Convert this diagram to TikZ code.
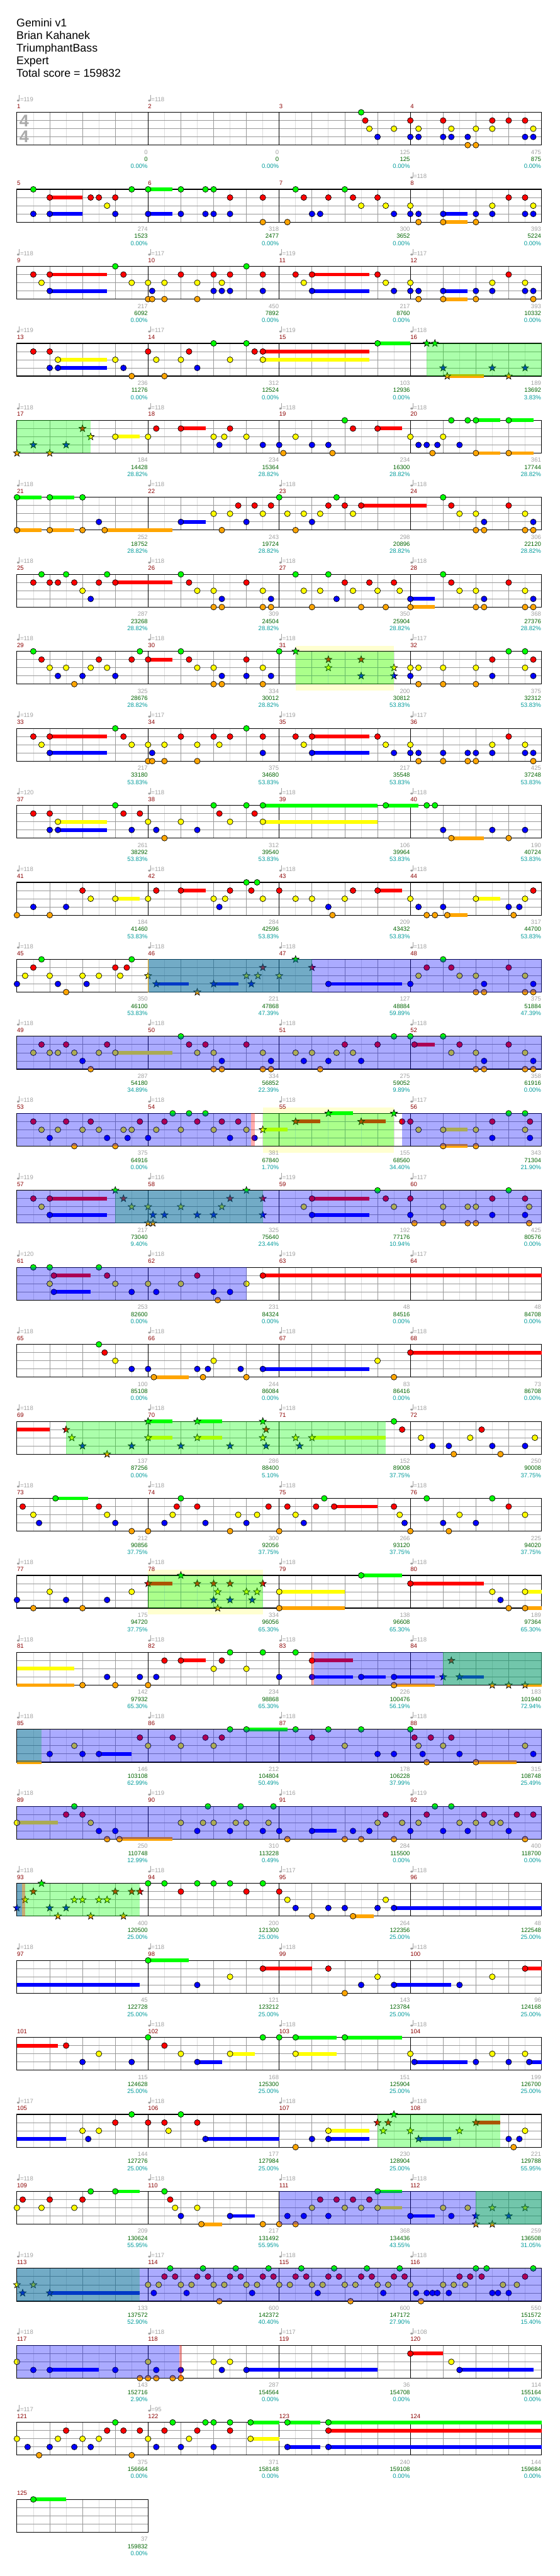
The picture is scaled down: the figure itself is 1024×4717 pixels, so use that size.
\documentclass[tikz,border=0pt]{standalone}
\usepackage{fontspec}
\setmainfont{Liberation Sans}
\definecolor{L0}{RGB}{0,255,0}
\definecolor{L1}{RGB}{255,0,0}
\definecolor{L2}{RGB}{255,255,0}
\definecolor{L3}{RGB}{0,0,255}
\definecolor{L4}{RGB}{255,165,0}
\definecolor{gridlight}{RGB}{221,221,221}
\definecolor{griddark}{RGB}{153,153,153}
\definecolor{tgray}{RGB}{160,160,160}
\definecolor{dgreen}{RGB}{0,100,0}
\definecolor{tealt}{RGB}{0,155,155}
\definecolor{dred}{RGB}{139,0,0}
\definecolor{ybcol}{RGB}{255,255,208}
\definecolor{tsgray}{RGB}{170,170,170}
\tikzset{
  nb/.style={draw=black,line width=0.8pt},
  gl/.style={draw=gridlight,line width=1pt},
  gd/.style={draw=griddark,line width=1pt},
  mline/.style={draw=black,line width=1pt},
  border/.style={draw=black,line width=1.3pt},
  small/.style={font=\fontsize{11}{13}\selectfont,inner sep=0pt},
  htxt/.style={font=\fontsize{20.5}{23}\selectfont,inner sep=0pt,anchor=base west},
  mlab/.style={small,text=dred,anchor=base west},
  ttxt/.style={small,text=tgray,anchor=base west},
  graytxt/.style={small,text=tgray,anchor=base east},
  greentxt/.style={small,text=dgreen,anchor=base east},
  pcttxt/.style={small,text=tealt,anchor=base east},
  tsig/.style={font=\fontsize{31}{31}\selectfont\bfseries,text=tsgray,inner sep=0pt}
}
\def\SetRow#1{\pgfmathsetmacro\RT{205.7+141*(#1)}}
\def\Grid#1{%
  \pgfmathtruncatemacro\NB{4*#1-1}%
  \pgfmathtruncatemacro\NM{#1-1}%
  \pgfmathsetmacro\W{240*#1}%
  \foreach \xJ in {0,...,\NB}{\draw[gl] ({61+60*\xJ},{-\RT}) -- ({61+60*\xJ},{-\RT-60});}
  \foreach \xL in {1,2,3}{\draw[gd] (31,{-\RT-15*\xL}) -- ({31+\W},{-\RT-15*\xL});}
  \ifnum\NB>0 \foreach \xJ in {1,...,\NB}{\draw[gd] ({31+60*\xJ},{-\RT}) -- ({31+60*\xJ},{-\RT-60});}\fi
  \ifnum\NM>0 \foreach \xJ in {1,...,\NM}{\draw[mline] ({31+240*\xJ},{-\RT}) -- ({31+240*\xJ},{-\RT-60});}\fi
  \draw[border] (31,{-\RT}) rectangle ({31+\W},{-\RT-60});
}
\def\Ln#1#2{\foreach \xT in {#2}{\filldraw[nb,fill=L#1] ({31+15*\xT},{-\RT-15*#1}) circle (5.3);}}
\def\Tl#1#2#3{\fill[L#1] ({31+15*(#2)},{-\RT-15*#1-3.4}) rectangle ({31+15*(#3)},{-\RT-15*#1+3.4});}
\def\Sl#1#2{\foreach \xT/\xE in {#2}{\Tl{#1}{\xT}{\xE}\filldraw[nb,fill=L#1] ({31+15*\xT},{-\RT-15*#1}) circle (5.3);}}
\def\StarAt#1#2{\filldraw[nb,fill=L#1,shift={({31+15*(#2)},{-\RT-15*#1})}] (90:6.8)--(126:2.8)--(162:6.8)--(198:2.8)--(234:6.8)--(270:2.8)--(306:6.8)--(342:2.8)--(18:6.8)--(54:2.8)--cycle;}
\def\Stl#1#2{\foreach \xT in {#2}{\StarAt{#1}{\xT}}}
\def\SSl#1#2{\foreach \xT/\xE in {#2}{\Tl{#1}{\xT}{\xE}\StarAt{#1}{\xT}}}
\def\Gr#1#2{\fill[L0,opacity=.33] ({31+15*(#1)},{-\RT}) rectangle ({31+15*(#2)},{-\RT-60});}
\def\Bl#1#2{\fill[L3,opacity=.33] ({31+15*(#1)},{-\RT}) rectangle ({31+15*(#2)},{-\RT-60});}
\def\Sa#1#2{\fill[L1,opacity=.33] ({31+15*(#1)},{-\RT}) rectangle ({31+15*(#2)},{-\RT-60});}
\def\Yb#1#2{\fill[ybcol] ({31+15*(#1)},{-\RT+10.4}) rectangle ({31+15*(#2)},{-\RT-71.8});}
\def\Tempo#1#2#3{%
  \fill[tgray] ({31+240*#1+2.4},{-\RT+21.6}) ellipse (2.4 and 1.8);
  \draw[tgray,line width=0.8pt] ({31+240*#1+4.4},{-\RT+21.4}) -- ({31+240*#1+4.4},{-\RT+31.5});
  \node[ttxt] (tp#3) at ({31+240*#1+5.7},{-\RT+20}) {=#2};}
\def\Meas#1#2#3#4#5#6{%
  \node[mlab] (ml#2) at ({31+240*#1},{-\RT+7.4}) {#2};
  \def\xTmp{#3}\ifx\xTmp\empty\else\Tempo{#1}{#3}{#2}\fi
  \node[graytxt] (ga#2) at ({31+240*#1+239.5},{-\RT-76.6}) {#4};
  \node[greentxt] (gb#2) at ({31+240*#1+239.5},{-\RT-89.6}) {#5};
  \node[pcttxt] (gc#2) at ({31+240*#1+239.5},{-\RT-102.6}) {#6\%};}
\begin{document}
\begin{tikzpicture}[x=1pt,y=1pt]
\fill[white] (0,0) rectangle (1024,-4717);
\useasboundingbox (0,0) rectangle (1024,-4717);
\node[htxt] (h1) at (30,-49.3) {Gemini v1};
\node[htxt] (h2) at (30,-72.3) {Brian Kahanek};
\node[htxt] (h3) at (30,-95.3) {TriumphantBass};
\node[htxt] (h4) at (30,-118.3) {Expert};
\node[htxt] (h5) at (30,-141.3) {Total score = 159832};
% row 0
\SetRow{0}\Grid{4}
\node[tsig] (ts1) at (44.3,-221) {4};
\node[tsig] (ts2) at (44.3,-250.7) {4};
\Ln{0}{42}
\Ln{1}{42.5,48,52,58,60,62}
\Ln{2}{43,46,49,53,56,58,63}
\Ln{3}{44,48,49,52,53,55,62,63}
\Ln{4}{55,56}
\Meas{0}{1}{119}{0}{0}{0.00}\Meas{1}{2}{118}{0}{0}{0.00}\Meas{2}{3}{}{125}{125}{0.00}\Meas{3}{4}{}{475}{875}{0.00}
% row 1
\SetRow{1}\Grid{4}
\Sl{0}{16/19}\Sl{1}{4/8}\Sl{3}{4/8,16/19,52/55}\Sl{4}{52/55}
\Ln{0}{2,14,20,23,24,34,40}
\Ln{1}{9,10,12,26,30,35,38,41,44,60,62}
\Ln{2}{11,42,45,48,58,63}
\Ln{3}{2,12,20,23,24,26,36,37,46,48,49,56,58,62,63}
\Ln{4}{30,33,49,56}
\Meas{0}{5}{}{274}{1523}{0.00}\Meas{1}{6}{}{318}{2477}{0.00}\Meas{2}{7}{}{300}{3652}{0.00}\Meas{3}{8}{118}{393}{5224}{0.00}
% row 2
\SetRow{2}\Grid{4}
\Sl{1}{4/11,36/43}\Sl{3}{4/11,36/43,52/55}\Sl{4}{52/55}
\Ln{0}{12,28}
\Ln{1}{2,13,20,24,26,30,34,44,60}
\Ln{2}{3,14,16,18,22,25,35,45,48,58,62}
\Ln{3}{16.5,24,25,26,30,46,48,49,56,58,62,63}
\Ln{4}{16,16.5,18,22,49,56,63}
\Meas{0}{9}{118}{217}{6092}{0.00}\Meas{1}{10}{117}{450}{7892}{0.00}\Meas{2}{11}{119}{217}{8760}{0.00}\Meas{3}{12}{117}{393}{10332}{0.00}
% row 3
\SetRow{3}\Grid{4}
\Sl{0}{44/48}\Sl{1}{30/43}\Sl{2}{5/11,30/43}\Sl{3}{5/11}\SSl{4}{52.5/57}
\Ln{0}{24,28}
\Ln{1}{2,4,16,21,29}
\Ln{2}{12,17,20,26}
\Ln{3}{4,13,22}
\Ln{4}{14,18}
\Stl{0}{50,51}\Stl{3}{52,58,62}\Stl{4}{60}
\Gr{50}{64}
\Meas{0}{13}{119}{236}{11276}{0.00}\Meas{1}{14}{117}{312}{12524}{0.00}\Meas{2}{15}{119}{103}{12936}{0.00}\Meas{3}{16}{118}{189}{13692}{3.83}
% row 4
\SetRow{4}\Grid{4}
\Sl{0}{56/59,60/63}\Sl{1}{20/23,44/47}\Sl{2}{12/15}\Sl{4}{56/59,60/63}
\Ln{0}{40,53,55}
\Ln{1}{17,26,41}
\Ln{2}{16,24,25.3,28,34,48,52}
\Ln{3}{24.7,30,32,36,38,49,50,51.3,54}
\Ln{4}{32.5,38.5,50.7}
\Stl{1}{8}\Stl{2}{9}\Stl{3}{2,6}\Stl{4}{0,4}
\Gr{0}{9}
\Meas{0}{17}{118}{184}{14428}{28.82}\Meas{1}{18}{118}{234}{15364}{28.82}\Meas{2}{19}{118}{234}{16300}{28.82}\Meas{3}{20}{118}{361}{17744}{28.82}
% row 5
\SetRow{5}\Grid{4}
\Sl{0}{0/3,4/7}\Sl{1}{42/50}\Sl{3}{20/23}\Sl{4}{0/3,4/7,10.7/19}
\Ln{0}{8,32,39,52}
\Ln{1}{27,29,31,38,40,53,60}
\Ln{2}{24,26,30,33,35,37,41,54,56,62}
\Ln{3}{10,28,36,57,63}
\Ln{4}{8,25,34,56,57,62,63}
\Meas{0}{21}{118}{252}{18752}{28.82}\Meas{1}{22}{118}{243}{19724}{28.82}\Meas{2}{23}{118}{298}{20896}{28.82}\Meas{3}{24}{118}{306}{22120}{28.82}
% row 6
\SetRow{6}\Grid{4}
\Sl{1}{12/19}\Sl{3}{48/51}\Sl{4}{48/51}
\Ln{0}{3,6,11,20,34,38,52}
\Ln{1}{2,4,5,7,10,21,28,40,43,46,53,60}
\Ln{2}{8,22,24,30,35,37,41,44,46.7,54,56,62}
\Ln{3}{9,25,31,39,57,63}
\Ln{4}{24,25,30,31,36,42,45,56,57,62,63}
\Meas{0}{25}{118}{287}{23268}{28.82}\Meas{1}{26}{118}{309}{24504}{28.82}\Meas{2}{27}{118}{350}{25904}{28.82}\Meas{3}{28}{118}{368}{27376}{28.82}
% row 7
\SetRow{7}\Yb{34}{46}\Grid{4}
\Sl{1}{16/19}
\Ln{0}{2,15,20,32,60,62}
\Ln{1}{3,10,14,21,28,58,63}
\Ln{2}{4,6,9,11,22,24,30,48,49,52,56,62}
\Ln{3}{5,8,12,25,28,31,48,58,63}
\Ln{4}{7,24,25,30,49,52,56}
\Stl{0}{34}\Stl{1}{38,42}\Stl{2}{38,46}\Stl{3}{42,46}
\Gr{34}{46}
\Meas{0}{29}{118}{325}{28676}{28.82}\Meas{1}{30}{118}{334}{30012}{28.82}\Meas{2}{31}{118}{200}{30812}{53.83}\Meas{3}{32}{117}{375}{32312}{53.83}
% row 8
\SetRow{8}\Grid{4}
\Sl{1}{4/11,36/43}\Sl{3}{4/11,36/43}
\Ln{0}{12,28}
\Ln{1}{2,13,20,24,26,30,34,44,60}
\Ln{2}{3,14,16,18,22,24.7,35,45,48,58,62}
\Ln{3}{16.5,30,46,48,49,52,55,56,58,62,63}
\Ln{4}{16,16.5,18,22,49,52,55,56,63}
\Meas{0}{33}{119}{217}{33180}{53.83}\Meas{1}{34}{117}{375}{34680}{53.83}\Meas{2}{35}{119}{217}{35548}{53.83}\Meas{3}{36}{117}{425}{37248}{53.83}
% row 9
\SetRow{9}\Grid{4}
\Sl{0}{30/44,45/49}\Sl{2}{5/11,30/44}\Sl{3}{5/11}\Sl{4}{53/57}
\Ln{0}{12,24,28,50,51}
\Ln{1}{2,4,13,15,24.7,29}
\Ln{2}{16,20,26}
\Ln{3}{4,14,17,22,52,58,62}
\Ln{4}{18,60}
\Meas{0}{37}{120}{261}{38292}{53.83}\Meas{1}{38}{118}{312}{39540}{53.83}\Meas{2}{39}{118}{106}{39964}{53.83}\Meas{3}{40}{118}{190}{40724}{53.83}
% row 10
\SetRow{10}\Grid{4}
\Sl{1}{20/23,44/47}\Sl{2}{12/15,56/59}\Sl{4}{52.5/55}
\Ln{0}{28,29.3}
\Ln{1}{8,17,26,28.6,32,41,63}
\Ln{2}{9,16,24,25.4,30,34,36,40,48,62}
\Ln{3}{2,6,24.7,38,49,52,60,61.3}
\Ln{4}{0,4,38.5,50,51,60.6}
\Meas{0}{41}{118}{184}{41460}{53.83}\Meas{1}{42}{118}{284}{42596}{53.83}\Meas{2}{43}{118}{209}{43432}{53.83}\Meas{3}{44}{118}{317}{44700}{53.83}
% row 11
\SetRow{11}\Grid{4}
\Sl{3}{38/47}\SSl{3}{17/21,24/27}
\Ln{0}{3,14,52}
\Ln{1}{2,12,13.4,50,53,60}
\Ln{2}{1,4,8,10,12.6,49,54,56,62}
\Ln{3}{0,5,8.5,48,57,63}
\Ln{4}{6,56,57,62,63}
\Stl{0}{34}\Stl{1}{30,36}\Stl{2}{16,28,29.4,32}\Stl{3}{28.6}\Stl{4}{22}
\Gr{16}{36}\Bl{16}{64}
\draw[L4,line width=1pt] (271,{-\RT}) -- (271,{-\RT-60});
\Meas{0}{45}{118}{350}{46100}{53.83}\Meas{1}{46}{118}{221}{47868}{47.39}\Meas{2}{47}{118}{127}{48884}{59.89}\Meas{3}{48}{118}{375}{51884}{47.39}
% row 12
\SetRow{12}\Grid{4}
\Sl{1}{48.5/51}\Sl{2}{12/19}
\Ln{0}{20,46,48,52}
\Ln{1}{3,6,11,21,23,28,40,44,54,60}
\Ln{2}{2,4,5,7,10,22,24,30,34,36,39,41,53,56,62}
\Ln{3}{8,25,31,35,38,42,57,63}
\Ln{4}{9,24,25,30,31,37,56,57,62,63}
\Bl{0}{64}
\Meas{0}{49}{118}{287}{54180}{34.89}\Meas{1}{50}{118}{334}{56852}{22.39}\Meas{2}{51}{118}{275}{59052}{9.89}\Meas{3}{52}{118}{358}{61916}{0.00}
% row 13
\SetRow{13}\Yb{30}{46}\Grid{4}
\Sl{2}{52/55}\Sl{4}{52/55}\SSl{0}{38/41}\SSl{1}{34/37,42/45}\SSl{2}{30/33}
\Ln{0}{19,21,23,60,62}
\Ln{1}{2,6,9,15,18,22,25,27,47,48,58,62.6}
\Ln{2}{3,5,8,10,13,14,17,20,24,28,49,56,62}
\Ln{3}{4,11,13.5,16,26,29,58,62.6}
\Ln{4}{7,12,56}
\Stl{0}{46}
\Bl{0}{28.6}\Sa{28.6}{29}\Gr{30}{46}\Bl{47}{64}
\Meas{0}{53}{118}{375}{64916}{0.00}\Meas{1}{54}{118}{381}{67840}{1.70}\Meas{2}{55}{118}{155}{68560}{34.40}\Meas{3}{56}{117}{343}{71304}{21.90}
% row 14
\SetRow{14}\Grid{4}
\Sl{1}{4/11,36/43}\Sl{3}{4/11,36/43}
\Ln{0}{44,60}
\Ln{1}{2,45,48,58,62}
\Ln{2}{3,35,46,52,55,56,62.5}
\Ln{3}{48,58,62}
\Ln{4}{48.5,52,55,56,62.5}
\Stl{0}{12,28}\Stl{1}{13,26,30}\Stl{2}{14,16,20,25}\Stl{3}{16.6,18,22,24,30}\Stl{4}{16,16.6}
\Gr{12}{30}\Bl{0}{64}
\Meas{0}{57}{119}{217}{73040}{9.40}\Meas{1}{58}{116}{325}{75640}{23.44}\Meas{2}{59}{119}{192}{77176}{10.94}\Meas{3}{60}{117}{425}{80576}{0.00}
% row 15
\SetRow{15}\Grid{4}
\Sl{1}{4.5/9,30/64}\Sl{3}{4.5/9}
\Ln{0}{2,4,10}
\Ln{1}{11,22}
\Ln{2}{4,12,16,20,28}
\Ln{3}{14,17,24,26}
\Ln{4}{24.5}
\Bl{0}{28}
\Meas{0}{61}{120}{253}{82600}{0.00}\Meas{1}{62}{118}{231}{84324}{0.00}\Meas{2}{63}{119}{48}{84516}{0.00}\Meas{3}{64}{117}{48}{84708}{0.00}
% row 16
\SetRow{16}\Grid{4}
\Sl{1}{48/64}\Sl{3}{30/43}\Sl{4}{16.7/21}
\Ln{0}{10}
\Ln{1}{10.7}
\Ln{2}{12,24,44}
\Ln{3}{14,16,22,23.3,27.3}
\Ln{4}{22.7,28,46}
\Meas{0}{65}{118}{100}{85108}{0.00}\Meas{1}{66}{118}{244}{86084}{0.00}\Meas{2}{67}{118}{83}{86416}{0.00}\Meas{3}{68}{118}{73}{86708}{0.00}
% row 17
\SetRow{17}\Grid{4}
\Tl{1}{0}{4}\SSl{0}{16/19,22/25}\SSl{2}{16/19,22/25,36/45}
\Ln{0}{46}
\Ln{1}{47,56.7}
\Ln{2}{49.3,55.3,63.2}
\Ln{3}{50.7,52.7,58,62}
\Ln{4}{53.3,59}
\Stl{0}{30}\Stl{1}{6,30.4}\Stl{2}{6.7,30,34}\Stl{3}{8,14,20,26,30.4,34.5}\Stl{4}{11}
\Gr{6}{45}
\Meas{0}{69}{118}{137}{87256}{0.00}\Meas{1}{70}{118}{286}{88400}{5.10}\Meas{2}{71}{118}{152}{89008}{37.75}\Meas{3}{72}{118}{250}{90008}{37.75}
% row 18
\SetRow{18}\Grid{4}
\Sl{0}{4.7/8.7}\Sl{1}{38.7/44}
\Ln{0}{20,37.5,50,58}
\Ln{1}{0.7,10,19.5,22,30.7,33,36.5,46,60}
\Ln{2}{2,11,19,27,29.3,34,46.7,54,62}
\Ln{3}{2.7,12,18,23,28,35,47.3,52,56}
\Ln{4}{14,16,26,32,48,52.7}
\Meas{0}{73}{118}{212}{90856}{37.75}\Meas{1}{74}{118}{300}{92056}{37.75}\Meas{2}{75}{118}{266}{93120}{37.75}\Meas{3}{76}{118}{225}{94020}{37.75}
% row 19
\SetRow{19}\Yb{16}{30}\Grid{4}
\Sl{0}{42/47}\Sl{1}{48/57}\Sl{2}{32/40,62/64}\Sl{4}{32/40,62/64}\SSl{1}{16/19}
\Ln{2}{4,14,58}
\Ln{3}{0,6,11,59}
\Ln{4}{2,8,60}
\Stl{0}{20}\Stl{1}{22,24,26,30}\Stl{2}{24.5,28,29.3}\Stl{3}{24,26,28.7}\Stl{4}{24.5}
\Gr{16}{30}
\Meas{0}{77}{118}{175}{94720}{37.75}\Meas{1}{78}{118}{334}{96056}{65.30}\Meas{2}{79}{118}{138}{96608}{65.30}\Meas{3}{80}{118}{189}{97364}{65.30}
% row 20
\SetRow{20}\Grid{4}
\Tl{2}{0}{7}\Tl{4}{0}{7}
\Sl{1}{20/23,36/41}\Sl{3}{36/41,42/45,46/51}\Sl{4}{46/51}\SSl{3}{54/57}\SSl{4}{62/64}
\Ln{0}{26,30,34}
\Ln{1}{18,25}
\Ln{2}{24,28}
\Ln{3}{11,15,17,32}
\Ln{4}{8,12,16}
\Stl{1}{53}\Stl{3}{52}\Stl{4}{58,60}
\Sa{35.9}{36.25}\Bl{36.25}{64}\Gr{52}{64}
\Meas{0}{81}{118}{142}{97932}{65.30}\Meas{1}{82}{118}{234}{98868}{65.30}\Meas{2}{83}{118}{226}{100476}{56.19}\Meas{3}{84}{118}{183}{101940}{72.94}
% row 21
\SetRow{21}\Grid{4}
\Tl{4}{0}{3}\Sl{0}{28/33}\Sl{3}{10/14}\Sl{4}{56/61}
\Ln{0}{26,34,38,42,48}
\Ln{1}{15,19,23,25,36,48.5,50.5,53}
\Ln{2}{7,16,20,24,40,49,52,62}
\Ln{3}{4,8,44,46,49.5,54,63}
\Ln{4}{50}
\Gr{0}{3}\Bl{0}{64}
\Meas{0}{85}{118}{146}{103108}{62.99}\Meas{1}{86}{118}{212}{104804}{50.49}\Meas{2}{87}{118}{178}{106228}{37.99}\Meas{3}{88}{118}{315}{108748}{25.49}
% row 22
\SetRow{22}\Grid{4}
\Sl{2}{0/5}\Sl{3}{36/39}\Sl{4}{12.5/19}
\Ln{0}{7,23.3,27.3,31.3,51,53}
\Ln{1}{6,8,45,50,57,61,63}
\Ln{2}{9,20,22.7,24,26.7,28,30.7,44,47,49,54,56,58,59}
\Ln{3}{10,12,22,26,30,32,41,43,48,52,55,60}
\Ln{4}{11,33,40,42,46,62}
\Bl{0}{64}
\Meas{0}{89}{118}{250}{110748}{12.99}\Meas{1}{90}{119}{310}{113228}{0.49}\Meas{2}{91}{116}{284}{115500}{0.00}\Meas{3}{92}{119}{400}{118700}{0.00}
% row 23
\SetRow{23}\Grid{4}
\Sl{3}{46/64}\Sl{4}{41/43.5}
\Ln{0}{16,18,22,24,26,30}
\Ln{1}{20,28,32}
\Ln{2}{33,45}
\Ln{3}{34,38,40,44}
\Ln{4}{36}
\Stl{0}{3}\Stl{1}{2,12,14,15}\Stl{2}{1,7,8,10,11}\Stl{3}{0,4,6}\Stl{4}{5,9,13}
\Gr{0}{15}\Bl{0}{0.6}\Sa{0.6}{1}
\Meas{0}{93}{118}{400}{120500}{25.00}\Meas{1}{94}{118}{200}{121300}{25.00}\Meas{2}{95}{117}{264}{122356}{25.00}\Meas{3}{96}{118}{48}{122548}{25.00}
% row 24
\SetRow{24}\Grid{4}
\Tl{3}{0}{15}\Sl{0}{16/21}\Sl{1}{30/36,62/64}\Sl{3}{46/53}
\Ln{1}{38}
\Ln{2}{26,44,58}
\Ln{3}{22,42,54}
\Ln{4}{40}
\Meas{0}{97}{118}{45}{122728}{25.00}\Meas{1}{98}{118}{121}{123212}{25.00}\Meas{2}{99}{118}{143}{123784}{25.00}\Meas{3}{100}{118}{96}{124168}{25.00}
% row 25
\SetRow{25}\Grid{4}
\Tl{1}{0}{5}\Sl{0}{34/39,40/47}\Sl{2}{26/29,34/39}\Sl{3}{22/25,48.5/55,62.5/64}
\Ln{0}{16,30,32}
\Ln{1}{6,18}
\Ln{2}{10,20,48,58,62}
\Ln{3}{8,14,56,60}
\Meas{0}{101}{}{115}{124628}{25.00}\Meas{1}{102}{118}{168}{125300}{25.00}\Meas{2}{103}{118}{151}{125904}{25.00}\Meas{3}{104}{118}{199}{126700}{25.00}
% row 26
\SetRow{26}\Grid{4}
\Tl{3}{0}{6}\Sl{2}{38/43}\Sl{3}{23/32,38/43}\SSl{1}{56/59}\SSl{3}{49/53}
\Ln{0}{14,20}
\Ln{1}{12,16,18,22}
\Ln{2}{8,10,18.5,62}
\Ln{3}{8.7,36,60,61.3}
\Ln{4}{34,60.6}
\Stl{0}{46}\Stl{1}{44,45.3}\Stl{2}{44.7,48,54}
\Gr{44}{59}
\Meas{0}{105}{117}{144}{127276}{25.00}\Meas{1}{106}{118}{177}{127984}{25.00}\Meas{2}{107}{118}{230}{128904}{25.00}\Meas{3}{108}{118}{221}{129788}{55.95}
% row 27
\SetRow{27}\Grid{4}
\Sl{0}{12/15,44/47}\Sl{2}{44/47}\Sl{3}{26/29,48/51}\Sl{4}{22.5/25}
\Ln{0}{9,18}
\Ln{1}{0.7,4,8,18.7,37,39,41,43}
\Ln{2}{0,3,7,19.3,22,36,40,42,52,55}
\Ln{3}{20,33,35,38,53}
\Ln{4}{30,32,34}
\Stl{2}{58,62}\Stl{3}{56,60}\Stl{4}{56,58}
\Bl{32}{64}\Gr{56}{64}
\Meas{0}{109}{118}{209}{130624}{55.95}\Meas{1}{110}{118}{217}{131492}{55.95}\Meas{2}{111}{118}{368}{134436}{43.55}\Meas{3}{112}{118}{259}{136508}{31.05}
% row 28
\SetRow{28}\Grid{4}
\SSl{3}{4/15}
\Ln{0}{18.7,22.7,26.7,30.7,34.7,38.7,42.7,46.7,56,57.3,63}
\Ln{1}{18,19.3,22,23.3,26,27.3,30,31.3,34,35.3,38,39.3,42,43.3,46,47.3,54,55.3,56.7,62}
\Ln{2}{16,17.3,20,21.3,24,25.3,28,29.3,32,33.3,36,37.3,40,41.3,44,45.3,48,52,53.3,54.7,59.3,61}
\Ln{3}{16.7,20.7,28.7,36.7,44.7,48.7,50,50.7,51.3,52.7,58,58.7,60}
\Ln{4}{24.7,40.7,49.3}
\Stl{2}{0,2}\Stl{3}{0.7}
\Gr{0}{15}\Bl{0}{64}
\Meas{0}{113}{119}{133}{137572}{52.90}\Meas{1}{114}{117}{600}{142372}{40.40}\Meas{2}{115}{118}{600}{147172}{27.90}\Meas{3}{116}{118}{550}{151572}{15.40}
% row 29
\SetRow{29}\Grid{4}
\Sl{1}{48/52}\Sl{3}{4/10,28/44,54/63}
\Ln{2}{0,16,24,26,53}
\Ln{3}{2,12,17,20,25}
\Ln{4}{15,16,17,19,20}
\Bl{0}{19.8}\Sa{19.8}{20.1}
\Meas{0}{117}{118}{143}{152716}{2.90}\Meas{1}{118}{118}{287}{154564}{0.00}\Meas{2}{119}{117}{36}{154708}{0.00}\Meas{3}{120}{108}{114}{155164}{0.00}
% row 30
\SetRow{30}\Grid{4}
\Sl{0}{28.5/32,33/37,38/64}\Sl{1}{38/64}\Sl{2}{28.5/32}\Sl{3}{33/37,38/64}
\Ln{0}{12,19,23,24,26}
\Ln{1}{6,11,13,15,18,22,26}
\Ln{2}{0,5,8,10,16,21}
\Ln{3}{1.3,4,7,9,17,20,24}
\Ln{4}{2.7,14}
\Meas{0}{121}{117}{375}{156664}{0.00}\Meas{1}{122}{95}{371}{158148}{0.00}\Meas{2}{123}{}{240}{159108}{0.00}\Meas{3}{124}{}{144}{159684}{0.00}
% row 31
\SetRow{31}\Grid{1}
\Sl{0}{2/6}
\Meas{0}{125}{}{37}{159832}{0.00}
\end{tikzpicture}
\end{document}
